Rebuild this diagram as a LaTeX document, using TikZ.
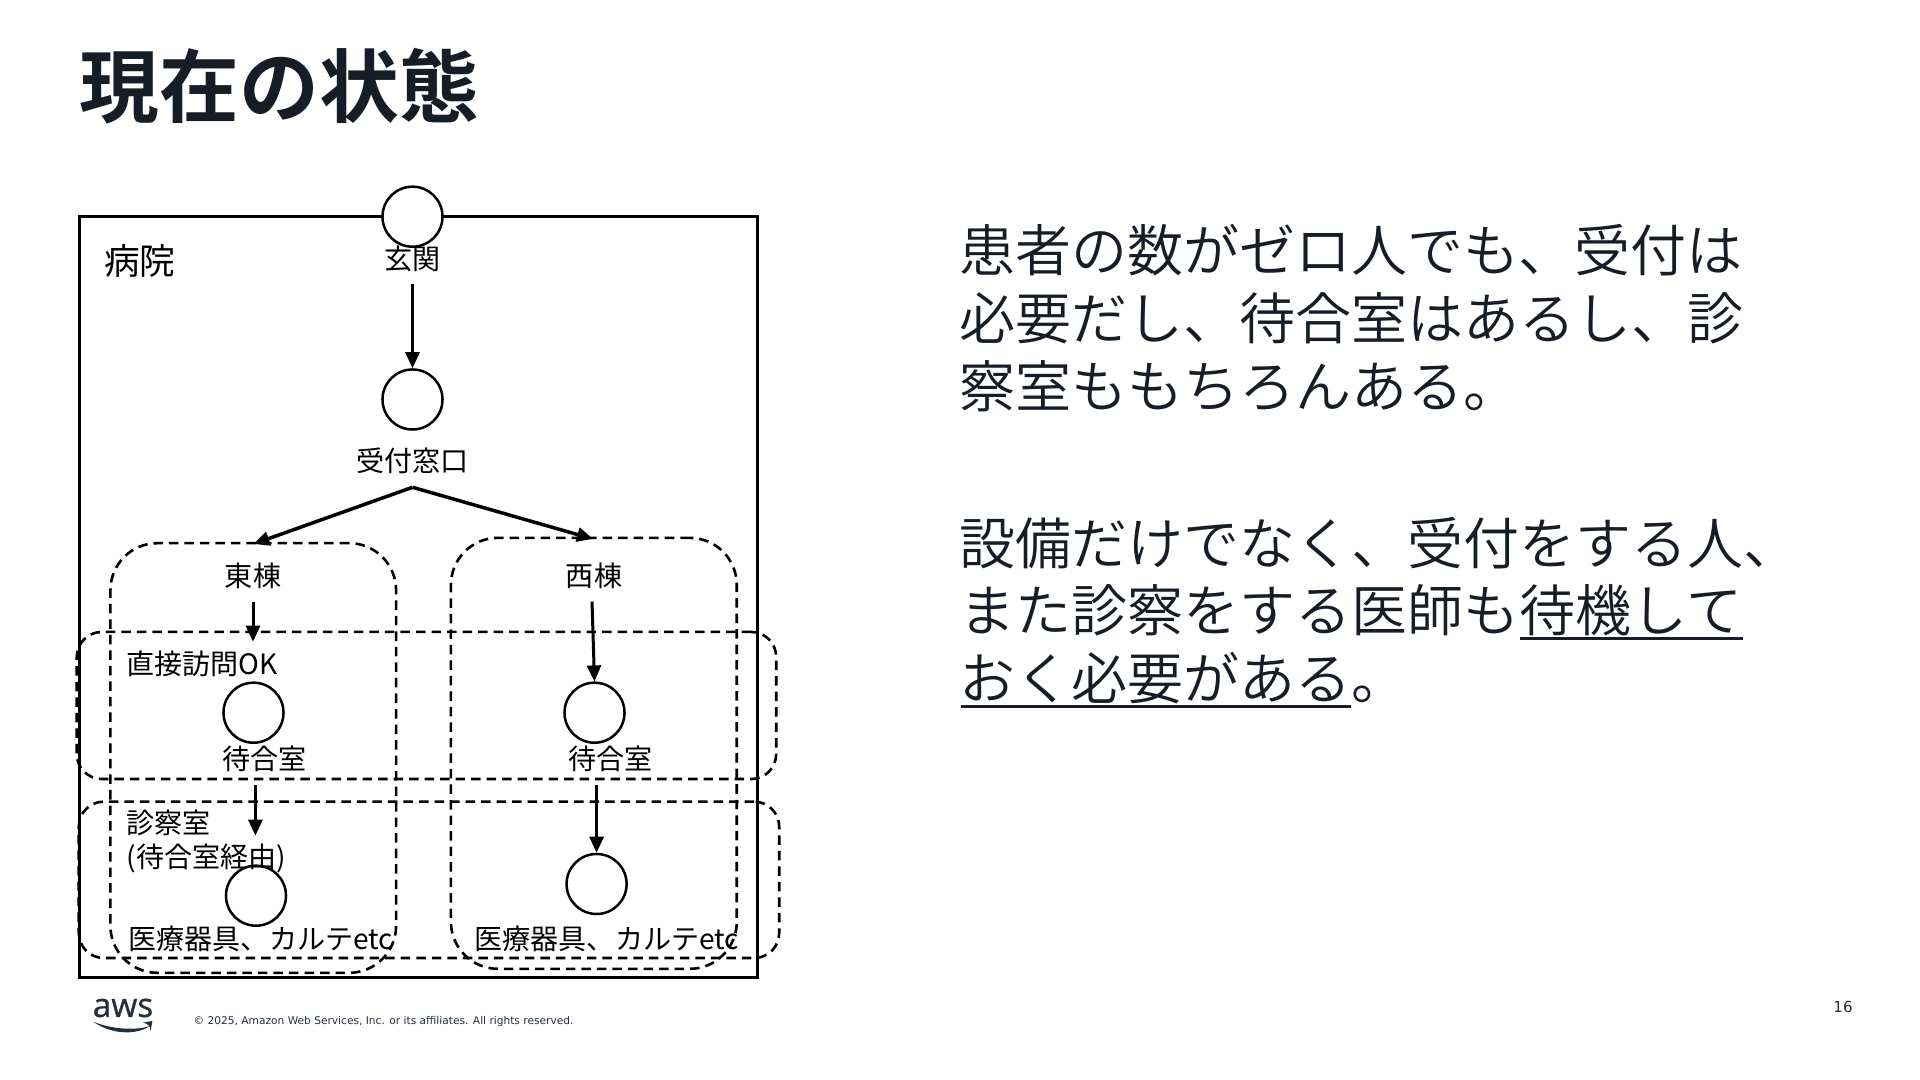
\documentclass[tikz,border=0pt]{standalone}
\usepackage{fontspec}
\usetikzlibrary{arrows.meta}
\setmainfont{Noto Sans CJK JP DemiLight}
\newfontfamily\jpbold{Noto Sans CJK JP Bold}
\newfontfamily\jpreg{Noto Sans CJK JP}
\newfontfamily\latinfoot{DejaVu Sans}
\newfontfamily\logofont[FakeBold=0.8]{Open Sans}
\definecolor{ink}{HTML}{161D26}
\definecolor{awsink}{HTML}{232F3E}
\tikzset{
  hcircle/.style={circle,draw=black,line width=0.025cm,fill=white,minimum size=0.6cm,inner sep=0pt},
  framebox/.style={rectangle,draw=black,line width=0.028cm,inner sep=0pt},
  zonebox/.style={rectangle,draw=black,line width=0.026cm,dash pattern=on 0.095cm off 0.06cm,inner sep=0pt},
  tallzone/.style={zonebox,rounded corners=0.47cm},
  widezone/.style={zonebox,rounded corners=0.25cm},
  flow/.style={draw=black,line width=0.03cm,-{Triangle[length=0.16cm,width=0.14cm]}},
  lbl/.style={inner sep=0pt,text=black,font=\jpreg\fontsize{7.98pt}{9.6pt}\selectfont},
  lblleft/.style={lbl,anchor=west},
  bigtext/.style={inner sep=0pt,anchor=west,text=ink,font=\fontsize{15.93pt}{19.4pt}\selectfont},
  under/.style={draw=ink,line width=0.03cm}
}
\begin{document}
\begin{tikzpicture}[x=0.01cm,y=-0.01cm]
\useasboundingbox (0,0) rectangle (1920,1080);
% title
\node[inner sep=0pt,anchor=west,text=ink,font=\jpbold\fontsize{22.7pt}{27pt}\selectfont] (title) at (79,86) {現在の状態};
% frame and zones
\node[framebox,minimum width=6.775cm,minimum height=7.60cm] (hospital) at (418.75,597) {};
\node[hcircle] (genkan) at (412.5,216.7) {};
\node[hcircle] (uketsuke) at (412.5,399.5) {};
\node[hcircle] (waitE) at (253.5,712.7) {};
\node[hcircle] (waitW) at (594.5,712.7) {};
\node[hcircle] (examE) at (256,895.7) {};
\node[hcircle] (examW) at (596.6,884) {};
\node[tallzone,minimum width=2.855cm,minimum height=4.294cm] (east) at (253.25,758) {};
\node[tallzone,minimum width=2.857cm,minimum height=4.307cm] (west) at (593.85,753.35) {};
\node[widezone,minimum width=6.99cm,minimum height=1.47cm] (row1) at (426.5,705.5) {};
\node[widezone,minimum width=7.00cm,minimum height=1.563cm] (row2) at (429,879.85) {};
% labels
\node[lblleft,font=\jpreg\fontsize{10.15pt}{12pt}\selectfont] (byoin) at (103.5,261) {病院};
\node[lbl] (lgenkan) at (412.5,258.5) {玄関};
\node[lbl] (luketsuke) at (412.5,460.5) {受付窓口};
\node[lbl] (leastb) at (253,575.5) {東棟};
\node[lbl] (lwestb) at (594,575.5) {西棟};
\node[lblleft] (ldirect) at (125.5,663.5) {直接訪問OK};
\node[lblleft] (lwaitE) at (222,759) {待合室};
\node[lblleft] (lwaitW) at (568,759) {待合室};
\node[lblleft] (lexam) at (126,823) {診察室};
\node[lblleft] (lvia) at (126,858) {(待合室経由)};
\node[lblleft] (ltoolE) at (128,938.5) {医療器具、カルテetc};
\node[lblleft] (ltoolW) at (474,938.5) {医療器具、カルテetc};
% connectors
\coordinate (c1) at (412.5,284);
\coordinate (apex) at (412.5,487.3);
\coordinate (tipE) at (253.5,544);
\coordinate (tipW) at (593,539);
\coordinate (c2) at (253,601.7);
\coordinate (c2e) at (253,641.7);
\coordinate (c3) at (592,601.7);
\coordinate (c4) at (255.4,785);
\coordinate (c4e) at (255.4,835.7);
\coordinate (c5) at (596.6,785);
\draw[flow] (c1) -- (uketsuke.north);
\draw[flow,line width=0.035cm] (apex) -- (tipE);
\draw[flow,line width=0.035cm] (apex) -- (tipW);
\draw[flow] (c2) -- (c2e);
\draw[flow] (c3) -- (waitW.north);
\draw[flow] (c4) -- (c4e);
\draw[flow] (c5) -- (examW.north);
% right text
\node[bigtext] (t1) at (959,250) {患者の数がゼロ人でも、受付は};
\node[bigtext] (t2) at (959,318) {必要だし、待合室はあるし、診};
\node[bigtext] (t3) at (959,386) {察室ももちろんある。};
\node[bigtext] (t4) at (959,543) {設備だけでなく、受付をする人、};
\node[bigtext] (t5) at (959,610.5) {また診察をする医師も待機して};
\node[bigtext] (t6) at (959,678.5) {おく必要がある。};
\draw[under] (1520,638.5) -- (1743,638.5);
\draw[under] (961,706.5) -- (1351,706.5);
% footer
\node[inner sep=0pt,text=awsink,font=\logofont\fontsize{9.5pt}{11pt}\selectfont] (awsword) at (123,1008) {aws};
\fill[awsink] (93,1021.5) .. controls (110,1034) and (135,1036) .. (150,1026) .. controls (135,1031) and (110,1029) .. cycle;
\fill[awsink] (143,1022.5) -- (152.5,1021) -- (150.5,1031) .. controls (150.5,1027) and (149,1024) .. cycle;
\node[inner sep=0pt,anchor=west,text=awsink,font=\latinfoot\fontsize{3.02pt}{4pt}\selectfont] (copy) at (193,1021.5) {© 2025, Amazon Web Services, Inc. or its affiliates. All rights reserved.};
\node[inner sep=0pt,text=awsink,font=\latinfoot\fontsize{4.3pt}{5pt}\selectfont] (pageno) at (1843,1007) {16};
\end{tikzpicture}
\end{document}
